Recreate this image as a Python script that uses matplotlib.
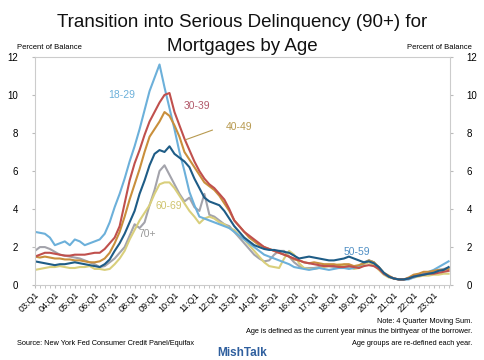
import matplotlib
matplotlib.use("Agg")
import matplotlib.pyplot as plt
from matplotlib.ticker import MultipleLocator

plt.rcParams['font.family'] = ['Liberation Sans', 'DejaVu Sans']

# quarterly, 03:Q1 .. 23:Q4
age_18_29 = [2.8, 2.75, 2.7, 2.5, 2.1, 2.2, 2.3, 2.1, 2.4, 2.3, 2.1, 2.2,
             2.3, 2.4, 2.7, 3.3, 4.1, 4.8, 5.6, 6.5, 7.3, 8.2, 9.2, 10.2,
             10.9, 11.6, 10.4, 9.3, 8.2, 7.0, 6.0, 4.9, 4.2, 3.6, 3.5, 3.4,
             3.3, 3.2, 3.1, 3.0, 2.8, 2.6, 2.4, 2.2, 2.0, 1.8, 1.6, 1.5,
             1.4, 1.3, 1.2, 1.1, 0.95, 0.9, 0.85, 0.8, 0.85, 0.9, 0.85, 0.8,
             0.85, 0.9, 0.9, 0.85, 0.9, 1.0, 1.15, 1.3, 1.2, 0.9, 0.6, 0.45,
             0.35, 0.3, 0.28, 0.3, 0.4, 0.5, 0.55, 0.7, 0.8, 0.95, 1.1, 1.25]
age_30_39 = [1.5, 1.6, 1.7, 1.7, 1.65, 1.6, 1.55, 1.55, 1.6, 1.6, 1.6, 1.65,
             1.7, 1.7, 1.9, 2.2, 2.5, 3.1, 4.3, 5.5, 6.4, 7.1, 7.9, 8.6,
             9.1, 9.6, 10.0, 10.1, 9.1, 8.4, 7.7, 7.1, 6.5, 6.0, 5.6, 5.3,
             5.1, 4.8, 4.5, 4.0, 3.4, 3.1, 2.8, 2.6, 2.4, 2.2, 2.0, 1.9,
             1.8, 1.7, 1.6, 1.5, 1.4, 1.3, 1.2, 1.15, 1.1, 1.05, 1.0, 1.0,
             1.0, 0.95, 0.95, 1.0, 0.95, 0.9, 1.0, 1.05, 1.0, 0.85, 0.6, 0.45,
             0.35, 0.3, 0.3, 0.35, 0.45, 0.5, 0.55, 0.6, 0.6, 0.65, 0.7, 0.75]
age_40_49 = [1.5, 1.45, 1.5, 1.45, 1.4, 1.4, 1.35, 1.35, 1.3, 1.3, 1.25, 1.2,
             1.2, 1.25, 1.4, 1.7, 2.2, 2.8, 3.6, 4.5, 5.3, 6.1, 7.0, 7.8,
             8.2, 8.6, 9.1, 8.9, 8.4, 7.8, 7.0, 6.6, 6.2, 5.8, 5.4, 5.2,
             5.0, 4.7, 4.3, 3.9, 3.4, 3.1, 2.8, 2.5, 2.3, 2.1, 2.0, 1.9,
             1.8, 1.7, 1.6, 1.5, 1.35, 1.3, 1.2, 1.15, 1.2, 1.15, 1.1, 1.1,
             1.1, 1.05, 1.1, 1.1, 1.0, 1.05, 1.15, 1.3, 1.2, 0.95, 0.65, 0.5,
             0.35, 0.3, 0.3, 0.4, 0.55, 0.6, 0.7, 0.7, 0.75, 0.8, 0.8, 0.85]
age_50_59 = [1.25, 1.2, 1.15, 1.1, 1.05, 1.1, 1.1, 1.15, 1.2, 1.15, 1.1, 1.05,
             1.0, 0.95, 1.1, 1.35, 1.8, 2.2, 2.7, 3.3, 3.9, 4.8, 5.5, 6.3,
             6.9, 7.1, 7.0, 7.3, 6.9, 6.7, 6.5, 6.2, 5.6, 5.1, 4.6, 4.4,
             4.3, 4.2, 3.9, 3.5, 3.1, 2.8, 2.5, 2.3, 2.1, 2.0, 1.9, 1.85,
             1.85, 1.8, 1.75, 1.7, 1.55, 1.4, 1.45, 1.5, 1.45, 1.4, 1.35, 1.3,
             1.3, 1.35, 1.4, 1.5, 1.4, 1.3, 1.2, 1.25, 1.15, 0.95, 0.65, 0.45,
             0.35, 0.3, 0.3, 0.35, 0.45, 0.5, 0.55, 0.6, 0.65, 0.75, 0.8, 0.95]
age_60_69 = [0.8, 0.85, 0.9, 0.95, 0.95, 1.0, 0.95, 0.9, 0.9, 0.95, 0.95, 1.0,
             0.85, 0.85, 0.8, 0.85, 1.1, 1.4, 1.8, 2.4, 2.9, 3.4, 3.8, 4.2,
             4.8, 5.3, 5.4, 5.4, 5.1, 4.7, 4.3, 3.9, 3.6, 3.25, 3.5, 3.6,
             3.5, 3.3, 3.2, 3.0, 2.9, 2.6, 2.4, 2.1, 1.8, 1.5, 1.2, 1.0,
             0.95, 0.9, 1.4, 1.8, 1.6, 1.15, 0.9, 0.85, 0.85, 0.9, 0.95, 1.0,
             1.0, 1.1, 1.05, 1.0, 0.85, 0.9, 1.1, 1.2, 1.05, 0.8, 0.55, 0.4,
             0.35, 0.3, 0.3, 0.35, 0.4, 0.45, 0.5, 0.5, 0.55, 0.55, 0.6, 0.6]
age_70_plus = [1.8, 2.0, 2.0, 1.9, 1.75, 1.6, 1.55, 1.5, 1.45, 1.4, 1.3, 1.2,
               1.1, 0.95, 1.0, 1.2, 1.4, 1.7, 2.0, 2.6, 3.2, 3.0, 3.3, 4.2,
               5.0, 6.0, 6.3, 5.8, 5.3, 4.8, 4.4, 4.6, 4.1, 3.9, 4.8, 3.7,
               3.6, 3.4, 3.2, 3.1, 2.8, 2.5, 2.2, 1.9, 1.6, 1.4, 1.25, 1.3,
               1.6, 1.8, 1.8, 1.5, 1.2, 1.0, 0.9, 0.9, 0.9, 0.95, 1.0, 1.0,
               0.95, 0.9, 0.9, 0.95, 0.95, 1.0, 1.2, 1.3, 1.2, 0.9, 0.6, 0.45,
               0.35, 0.3, 0.3, 0.35, 0.45, 0.55, 0.6, 0.65, 0.7, 0.8, 0.85, 0.9]

years = ['03', '04', '05', '06', '07', '08', '09', '10', '11', '12', '13',
         '14', '15', '16', '17', '18', '19', '20', '21', '22', '23']
tick_labels = [y + ':Q1' for y in years]

series = [
    (age_70_plus, '#a3a3ab'),
    (age_60_69, '#d9cf7c'),
    (age_18_29, '#6cb0da'),
    (age_40_49, '#c98f3c'),
    (age_30_39, '#c0504d'),
    (age_50_59, '#1e5c86'),
]

fig = plt.figure(figsize=(4.85, 3.6), dpi=100)
ax = fig.add_axes([0.072, 0.208, 0.856, 0.634])

for vals, col in series:
    ax.plot(range(len(vals)), vals, color=col, lw=1.5)

ax.set_xlim(0, 83.3)
ax.set_ylim(0, 12)
ax.set_xticks(range(0, 84, 4))
ax.set_xticklabels(tick_labels, rotation=45, ha='right', fontsize=6.5,
                   rotation_mode='anchor')
ax.xaxis.set_minor_locator(MultipleLocator(1))
ax.tick_params(axis='x', which='both', length=2, color='#bbbbbb', pad=2)
ax.set_yticks(range(0, 13, 2))
ax.tick_params(axis='y', length=0, labelsize=7, pad=10,
               labelleft=True, labelright=True, right=True)
ax.tick_params(axis='y', which='major', right=True, length=2, color='#bbbbbb')
for s in ax.spines.values():
    s.set_color('#cccccc')
    s.set_linewidth(0.8)

# series labels
ax.text(17.4, 10.0, '18-29', color='#6cb0da', fontsize=7.5, ha='center', va='center')
ax.text(32.6, 9.4, '30-39', color='#b2596a', fontsize=7.5, ha='center', va='center')
ax.text(41.0, 8.3, '40-49', color='#b89a50', fontsize=7.5, ha='center', va='center')
ax.plot([30.3, 35.6], [7.65, 8.15], color='#b89a50', lw=0.8)
ax.text(26.8, 4.15, '60-69', color='#cfc46e', fontsize=7.5, ha='center', va='center')
ax.text(22.5, 2.7, '70+', color='#999999', fontsize=7.5, ha='center', va='center')
ax.text(64.6, 1.75, '50-59', color='#4f8fc4', fontsize=7.5, ha='center', va='center')

fig.text(0.5, 0.937, 'Transition into Serious Delinquency (90+) for',
         ha='center', va='center', fontsize=13.5, color='#111111')
fig.text(0.5, 0.872, 'Mortgages by Age', ha='center', va='center',
         fontsize=13.5, color='#111111')
fig.text(0.035, 0.867, 'Percent of Balance', ha='left', va='center', fontsize=5.5)
fig.text(0.973, 0.867, 'Percent of Balance', ha='right', va='center', fontsize=5.5)

fig.text(0.973, 0.108, 'Note: 4 Quarter Moving Sum.', ha='right', va='center', fontsize=5.3)
fig.text(0.973, 0.078, 'Age is defined as the current year minus the birthyear of the borrower.',
         ha='right', va='center', fontsize=5.3)
fig.text(0.973, 0.047, 'Age groups are re-defined each year.', ha='right', va='center', fontsize=5.3)
fig.text(0.035, 0.047, 'Source: New York Fed Consumer Credit Panel/Equifax',
         ha='left', va='center', fontsize=5.3)
fig.text(0.5, 0.003, 'MishTalk', ha='center', va='bottom', fontsize=8.5,
         fontweight='bold', color='#2f5f9e')

fig.savefig('out.png', dpi=100)
